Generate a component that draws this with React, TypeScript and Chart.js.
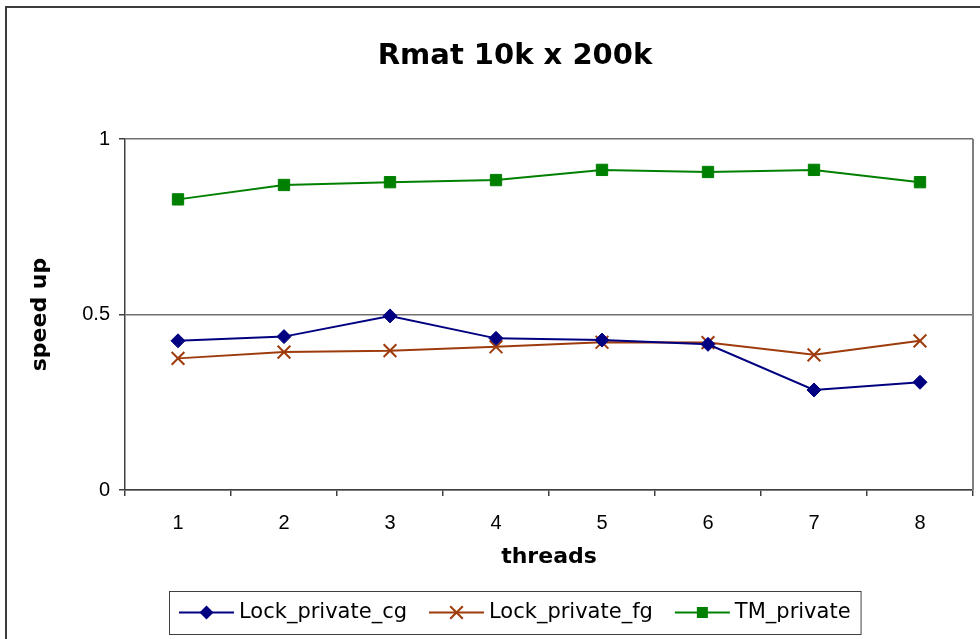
import React, { useEffect, useRef } from 'react';
import { Chart, registerables } from 'chart.js';

Chart.register(...registerables);

// Thread counts on the x axis
const threads = ['1', '2', '3', '4', '5', '6', '7', '8'];

// Speed-up per thread count
const lockPrivateCg = [0.425, 0.437, 0.496, 0.432, 0.427, 0.415, 0.285, 0.307];
const lockPrivateFg = [0.375, 0.393, 0.397, 0.408, 0.421, 0.42, 0.385, 0.425];
const tmPrivate = [0.828, 0.869, 0.877, 0.883, 0.912, 0.906, 0.912, 0.877];

// Y axis tick values
const yTicks = [0, 0.5, 1];

const chartTitle = 'Rmat 10k x 200k';
const seriesNames = ['Lock_private_cg', 'Lock_private_fg', 'TM_private'];
const seriesColors = ['#000080', '#9E3B0C', '#008000'];
const seriesMarkers = ['diamond', 'cross', 'square'];

const BOLD_FONT = '"DejaVu Sans", sans-serif';
const TICK_FONT = '"Liberation Sans", Arial, sans-serif';

function drawMarker(ctx: CanvasRenderingContext2D, kind: string, x: number, y: number, color: string) {
  ctx.save();
  ctx.fillStyle = color;
  ctx.strokeStyle = color;
  if (kind === 'diamond') {
    const r = 7;
    ctx.beginPath();
    ctx.moveTo(x, y - r);
    ctx.lineTo(x + r, y);
    ctx.lineTo(x, y + r);
    ctx.lineTo(x - r, y);
    ctx.closePath();
    ctx.fill();
  } else if (kind === 'cross') {
    const r = 6.3;
    ctx.lineWidth = 2;
    ctx.beginPath();
    ctx.moveTo(x - r, y - r);
    ctx.lineTo(x + r, y + r);
    ctx.moveTo(x + r, y - r);
    ctx.lineTo(x - r, y + r);
    ctx.stroke();
  } else {
    const h = 5.5;
    ctx.fillRect(x - h, y - h, h * 2, h * 2);
  }
  ctx.restore();
}

// Outer chart frame and plot-area right edge
const framePlugin = {
  id: 'frame',
  beforeDraw(chart: any) {
    const { ctx } = chart;
    ctx.save();
    ctx.fillStyle = '#ffffff';
    ctx.fillRect(0, 0, chart.width, chart.height);
    ctx.strokeStyle = '#3c3c3c';
    ctx.lineWidth = 2;
    ctx.strokeRect(6, 7, chart.width + 20, chart.height + 20);
    ctx.restore();
  },
  beforeDatasetsDraw(chart: any) {
    const { ctx, chartArea } = chart;
    ctx.save();
    ctx.strokeStyle = '#808080';
    ctx.lineWidth = 2;
    ctx.beginPath();
    ctx.moveTo(chartArea.right, chartArea.top);
    ctx.lineTo(chartArea.right, chartArea.bottom);
    ctx.stroke();
    ctx.restore();
  },
};

// Title centred over the whole chart object
const titlePlugin = {
  id: 'chartTitle',
  afterDraw(chart: any) {
    const { ctx } = chart;
    ctx.save();
    ctx.font = `bold 29px ${BOLD_FONT}`;
    ctx.fillStyle = '#000000';
    ctx.textAlign = 'center';
    ctx.textBaseline = 'middle';
    ctx.fillText(chartTitle, 515, 56);
    ctx.restore();
  },
};

// Boxed legend with line + marker symbols
const legendPlugin = {
  id: 'boxLegend',
  afterDraw(chart: any) {
    const { ctx } = chart;
    ctx.save();
    ctx.font = `21px ${BOLD_FONT}`;
    const symW = 55;
    const symGap = 5;
    const itemGap = 22;
    const padL = 10;
    const padR = 10;
    const widths = seriesNames.map((n) => ctx.measureText(n).width);
    let total = padL + padR;
    widths.forEach((w, i) => {
      total += symW + symGap + w + (i > 0 ? itemGap : 0);
    });
    const cx = 514.5;
    const top = 591;
    const bottom = 634;
    const left = Math.round(cx - total / 2);
    const midY = (top + bottom) / 2;

    ctx.strokeStyle = '#404040';
    ctx.lineWidth = 1;
    ctx.strokeRect(left + 0.5, top + 0.5, total, bottom - top);

    let x = left + padL;
    seriesNames.forEach((name, i) => {
      const color = seriesColors[i];
      ctx.strokeStyle = color;
      ctx.lineWidth = 2;
      ctx.beginPath();
      ctx.moveTo(x, midY);
      ctx.lineTo(x + symW, midY);
      ctx.stroke();
      drawMarker(ctx, seriesMarkers[i], x + symW / 2, midY, color);
      x += symW + symGap;
      ctx.fillStyle = '#000000';
      ctx.textAlign = 'left';
      ctx.textBaseline = 'middle';
      ctx.fillText(name, x, midY);
      x += widths[i] + itemGap;
    });
    ctx.restore();
  },
};

export default function App() {
  const canvasRef = useRef<HTMLCanvasElement | null>(null);

  useEffect(() => {
    if (!canvasRef.current) return;
    const chart = new Chart(canvasRef.current, {
      type: 'line',
      data: {
        labels: threads,
        datasets: [
          {
            label: seriesNames[0],
            data: lockPrivateCg,
            borderColor: seriesColors[0],
            backgroundColor: seriesColors[0],
            borderWidth: 2,
            pointStyle: 'rectRot',
            pointRadius: 7,
            pointBorderWidth: 1,
            pointBackgroundColor: seriesColors[0],
            pointBorderColor: seriesColors[0],
            tension: 0,
          },
          {
            label: seriesNames[1],
            data: lockPrivateFg,
            borderColor: seriesColors[1],
            backgroundColor: seriesColors[1],
            borderWidth: 2,
            pointStyle: 'crossRot',
            pointRadius: 9,
            pointBorderWidth: 2,
            pointBorderColor: seriesColors[1],
            tension: 0,
          },
          {
            label: seriesNames[2],
            data: tmPrivate,
            borderColor: seriesColors[2],
            backgroundColor: seriesColors[2],
            borderWidth: 2,
            pointStyle: 'rect',
            pointRadius: 8,
            pointBorderWidth: 1,
            pointBackgroundColor: seriesColors[2],
            pointBorderColor: seriesColors[2],
            tension: 0,
          },
        ],
      },
      options: {
        responsive: false,
        animation: false,
        layout: { autoPadding: false, padding: { left: 0, right: 7, top: 139, bottom: 64 } },
        plugins: {
          legend: { display: false },
          title: { display: false },
          tooltip: { enabled: false },
        },
        scales: {
          x: {
            type: 'category',
            offset: true,
            afterFit(scale: any) {
              scale.height = 85;
              scale.paddingLeft = 0;
              scale.paddingRight = 0;
            },
            grid: {
              offset: true,
              drawOnChartArea: false,
              drawTicks: true,
              tickLength: 6,
              color: '#404040',
              lineWidth: 1.5,
            },
            border: { display: true, color: '#404040', width: 1.5 },
            ticks: {
              color: '#000000',
              font: { family: TICK_FONT, size: 20 },
              padding: 15,
              maxRotation: 0,
            },
            title: {
              display: true,
              text: 'threads',
              color: '#000000',
              font: { family: BOLD_FONT, size: 22, weight: 'bold' },
              padding: { top: 0, bottom: 5 },
            },
          },
          y: {
            min: 0,
            max: 1,
            afterFit(scale: any) {
              scale.width = 125;
            },
            afterBuildTicks(scale: any) {
              scale.ticks = yTicks.map((v) => ({ value: v }));
            },
            grid: {
              color: '#707070',
              lineWidth: 1.5,
              drawTicks: true,
              tickLength: 6,
              tickColor: '#404040',
            },
            border: { display: true, color: '#404040', width: 1.5 },
            ticks: {
              color: '#000000',
              font: { family: TICK_FONT, size: 20 },
              padding: 9,
              callback: (v: any) => String(v),
            },
            title: {
              display: true,
              text: 'speed up',
              color: '#000000',
              font: { family: BOLD_FONT, size: 22, weight: 'bold' },
              padding: { top: 27, bottom: 0 },
            },
          },
        },
      },
      plugins: [framePlugin, titlePlugin, legendPlugin],
    });
    return () => chart.destroy();
  }, []);

  return (
    <div style={{ position: 'fixed', left: 0, top: 0, width: 980, height: 639, background: '#ffffff' }}>
      <canvas ref={canvasRef} width={980} height={639} style={{ display: 'block' }} />
    </div>
  );
}
